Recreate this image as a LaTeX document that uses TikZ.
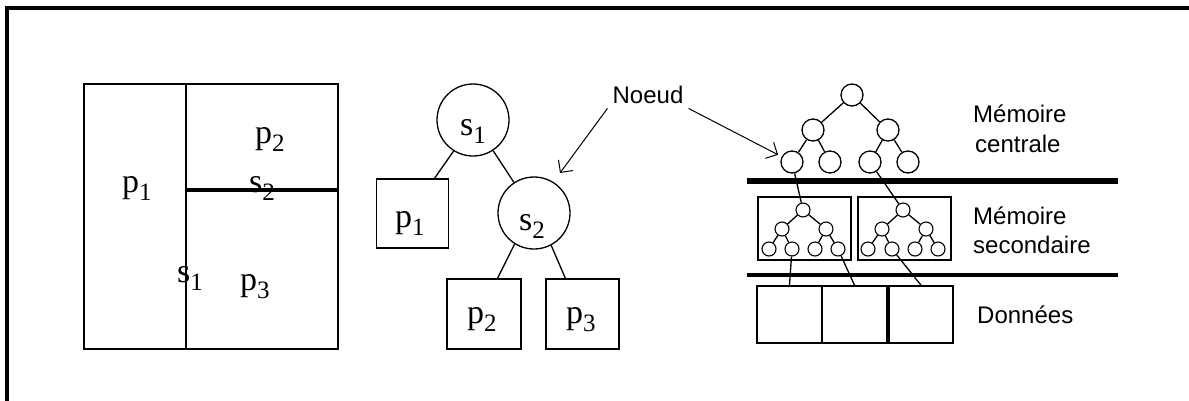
\documentclass[tikz,border=0pt]{standalone}
\usepackage{fontspec}
\setmainfont{Liberation Serif}
\newfontfamily\sansf{Liberation Sans}
\usetikzlibrary{arrows.meta,calc}
\newcommand{\psub}[2]{{\fontsize{34}{34}\selectfont #1}\raisebox{-8pt}{\fontsize{25}{25}\selectfont #2}}
\begin{document}
\begin{tikzpicture}[x=1pt,y=-1pt,
  every node/.style={inner sep=0pt},
  lab/.style={anchor=base west},
  sanslab/.style={anchor=base west, font=\sansf\fontsize{24}{24}\selectfont},
  circ/.style={circle, draw, line width=1.3pt, minimum size=72pt},
  leaf/.style={rectangle, draw, line width=1.6pt, minimum width=72pt, minimum height=69pt},
  tn/.style={circle, draw, line width=1.3pt, minimum size=22pt},
  mn/.style={circle, draw, line width=1.1pt, minimum size=14pt},
  memb/.style={rectangle, draw, line width=1.5pt, minimum width=93pt, minimum height=63pt},
  datab/.style={rectangle, draw, line width=1.6pt, minimum width=65pt, minimum height=57pt},
  edge/.style={line width=1.3pt},
  arrow/.style={line width=1pt, -{Straight Barb[length=9pt,width=18pt]}}
]
\useasboundingbox (0,0) rectangle (1189,400);
\draw[line width=3.5pt] (7,410) -- (7,8) -- (1200,8);

% partition of the plane
\node[draw, line width=2pt, minimum width=254pt, minimum height=265pt] (plane) at (211,216.5) {};
\draw[line width=1.6pt] (186,84) -- (186,349);
\draw[line width=4pt] (186,190) -- (338,190);
\node[lab] (lp2) at (255,143) {\psub{p}{2}};
\node[lab] (lp1) at (122,192) {\psub{p}{1}};
\node[lab] (ls2) at (249,192) {\psub{s}{2}};
\node[lab] (ls1) at (177,282) {\psub{s}{1}};
\node[lab] (lp3) at (240,290) {\psub{p}{3}};

% kd tree
\node[circ] (s1) at (473,120) {};
\node[lab] (ts1) at (460,135) {\psub{s}{1}};
\node[circ] (s2) at (534,213) {};
\node[lab] (ts2) at (519,230) {\psub{s}{2}};
\node[leaf] (p1) at (412.5,213.5) {};
\node[lab] (tp1) at (395,227) {\psub{p}{1}};
\node[leaf, minimum width=74pt, minimum height=70pt] (p2) at (484,314) {};
\node[lab] (tp2) at (467,323) {\psub{p}{2}};
\node[leaf, minimum width=73pt, minimum height=70pt] (p3) at (582.5,314) {};
\node[lab] (tp3) at (566,323) {\psub{p}{3}};
\draw[edge] (s1.238) -- ($(p1.north west)!0.8!(p1.north east)$);
\draw[edge] (s1) -- (s2);
\draw[edge] (s2.238) -- ($(p2.north west)!0.68!(p2.north east)$);
\draw[edge] (s2.298) -- ($(p3.north west)!0.27!(p3.north east)$);

% Noeud label
\node[sanslab, anchor=base, inner sep=5pt] (noeud) at (648,103) {Noeud};

% memory tree
\node[tn] (t0) at (852,95) {};
\node[tn] (t1) at (813,130) {};
\node[tn] (t2) at (888,130) {};
\node[tn] (t3a) at (792,162) {};
\node[tn] (t3b) at (830,162) {};
\node[tn] (t3c) at (870,162) {};
\node[tn] (t3d) at (908,162) {};
\draw[edge] (t0) -- (t1);
\draw[edge] (t0) -- (t2);
\draw[edge] (t1) -- (t3a);
\draw[edge] (t1) -- (t3b);
\draw[edge] (t2) -- (t3c);
\draw[edge] (t2) -- (t3d);

\draw[arrow] (noeud.south west) -- ($(s2.center)+(26,-40)$);
\draw[arrow, shorten >=4pt] (noeud.south east) -- (t3a);

\draw[line width=5.5pt] (747,181) -- (1118,181);

% secondary memory boxes
\node[memb] (b1) at (804.5,228.5) {};
\node[memb] (b2) at (904.5,228.5) {};
\node[mn] (m1r) at (803,210) {};
\node[mn] (m1a) at (782,229) {};
\node[mn] (m1b) at (826,229) {};
\node[mn] (m1c) at (769,249) {};
\node[mn] (m1d) at (792,249) {};
\node[mn] (m1e) at (815,249) {};
\node[mn] (m1f) at (838,249) {};
\node[mn] (m2r) at (903,210) {};
\node[mn] (m2a) at (882,229) {};
\node[mn] (m2b) at (926,229) {};
\node[mn] (m2c) at (868,249) {};
\node[mn] (m2d) at (892,249) {};
\node[mn] (m2e) at (915,249) {};
\node[mn] (m2f) at (938,249) {};
\foreach \t in {1,2}{
  \draw[edge] (m\t r) -- (m\t a);
  \draw[edge] (m\t r) -- (m\t b);
  \draw[edge] (m\t a) -- (m\t c);
  \draw[edge] (m\t a) -- (m\t d);
  \draw[edge] (m\t b) -- (m\t e);
  \draw[edge] (m\t b) -- (m\t f);
}
\draw[edge] (t3a) -- (m1r);
\draw[edge] (t3c) -- (m2r);

\draw[line width=4pt] (747,275) -- (1118,275);

% data blocks
\node[datab] (d1) at (789.5,314.5) {};
\node[datab] (d2) at (854.5,314.5) {};
\node[datab, minimum width=64pt] (d3) at (921,314.5) {};
\draw[edge] (m1d) -- (d1.north);
\draw[edge] (m1f) -- (d2.north);
\draw[edge] (m2d) -- (d3.north);

% right labels
\node[sanslab] (mc1) at (973,122) {Mémoire};
\node[sanslab] (mc2) at (975,152) {centrale};
\node[sanslab] (ms1) at (973,224) {Mémoire};
\node[sanslab] (ms2) at (973,253) {secondaire};
\node[sanslab] (dn) at (977,323) {Données};
\end{tikzpicture}
\end{document}
